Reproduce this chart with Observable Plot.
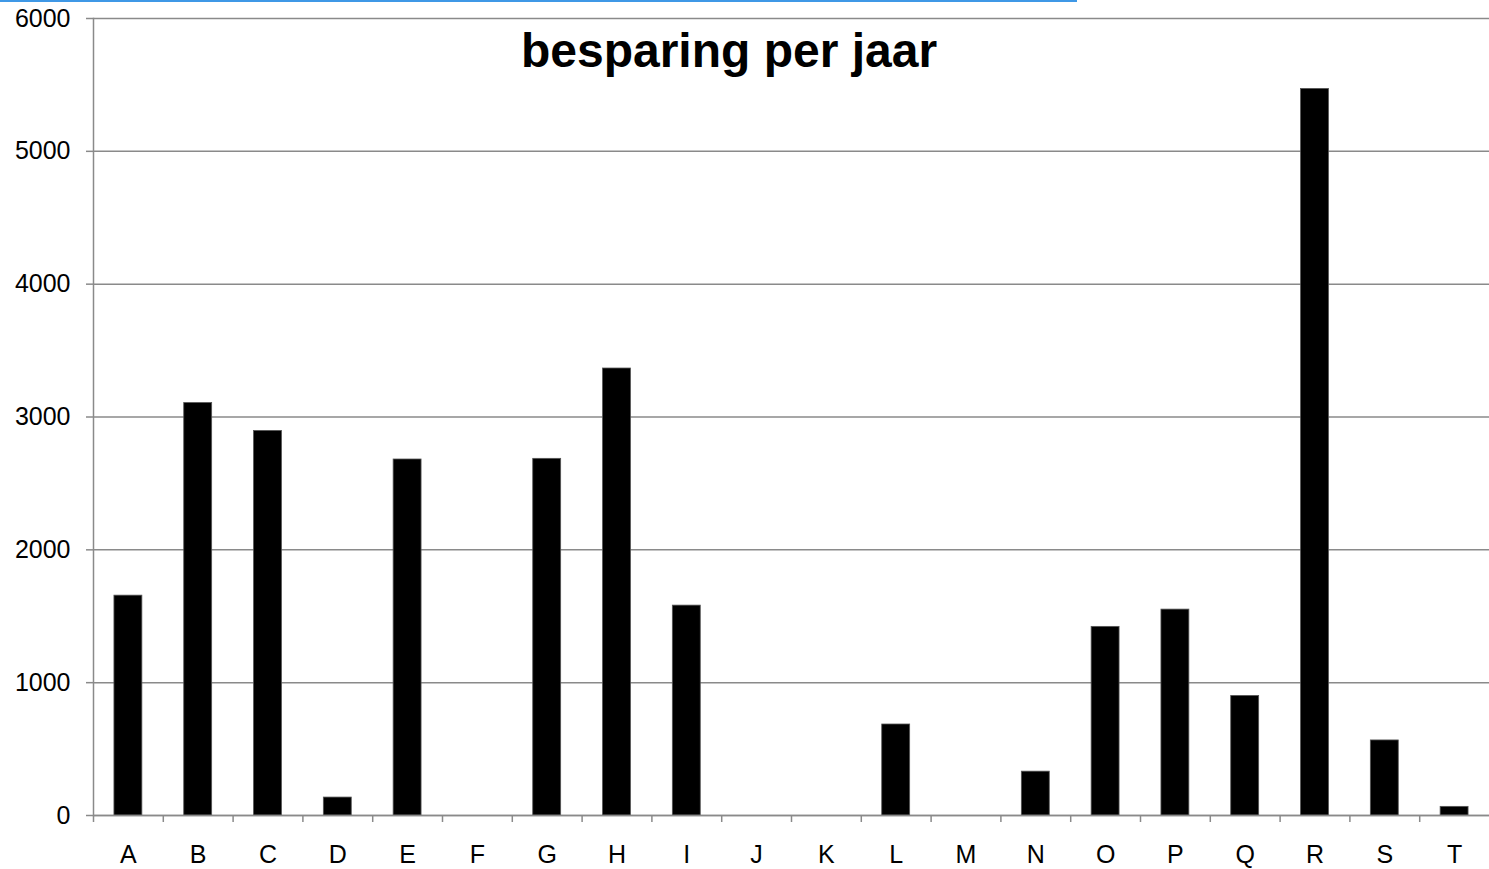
<!DOCTYPE html>
<html>
<head>
<meta charset="utf-8">
<script src="https://cdn.jsdelivr.net/npm/d3@7"></script>
<script src="https://cdn.jsdelivr.net/npm/@observablehq/plot@0.6"></script>
<style>
  html, body { margin: 0; padding: 0; background: #fff; }
  #wrap { position: relative; width: 1489px; height: 869px; overflow: hidden; }
  #topline { position: absolute; left: 0; top: 0; width: 1077px; height: 2px; background: #3f98e6; }
  svg { display: block; }
</style>
</head>
<body>
<div id="wrap"><div id="topline"></div></div>
<script>
const title = "besparing per jaar";
const categories = ["A","B","C","D","E","F","G","H","I","J","K","L","M","N","O","P","Q","R","S","T"];
const values = [1655, 3105, 2895, 135, 2680, 0, 2685, 3365, 1580, 0, 0, 685, 0, 330, 1420, 1550, 900, 5470, 565, 65];
const yTicks = [0, 1000, 2000, 3000, 4000, 5000, 6000];

const data = categories.map((c, i) => ({cat: c, val: values[i]}));

const W = 1489, H = 869, ML = 93, MR = 0, MT = 18, MB = 54;
const step = (W - ML - MR) / categories.length;
const gray = "#8a8a8a";

const chart = Plot.plot({
  width: W,
  height: H,
  marginLeft: ML,
  marginRight: MR,
  marginTop: MT,
  marginBottom: MB,
  style: {fontFamily: "'Liberation Sans', Arial, sans-serif", fontSize: "25px", color: "#000", background: "#fff"},
  x: {domain: categories, paddingInner: 0.6, paddingOuter: 0.3, round: false, label: null},
  y: {domain: [0, 6000], label: null},
  marks: [
    Plot.gridY(yTicks, {stroke: gray, strokeOpacity: 1, strokeWidth: 1.5}),
    Plot.frame({anchor: "left", stroke: gray, strokeWidth: 1.5}),
    Plot.axisY(yTicks, {tickSize: 7, tickPadding: 16, tickFormat: d => String(d), stroke: gray, strokeWidth: 1.5, fontSize: 25, fill: "#000", label: null}),
    Plot.axisX(categories, {tickSize: 7, dx: -step / 2, text: null, stroke: gray, strokeWidth: 1.5, label: null}),
    Plot.axisX(categories, {tickSize: 0, tickPadding: 30, fontSize: 25, fill: "#000", label: null}),
    Plot.barY(data, {x: "cat", y: "val", fill: "#000", stroke: "#555", strokeWidth: 0.8}),
    Plot.ruleY([0], {stroke: gray, strokeWidth: 1.5}),
    Plot.text([title], {frameAnchor: "top-left", dx: 728.5 - ML, dy: 48, lineAnchor: "bottom", textAnchor: "middle", fontSize: 48, fontWeight: "bold", fill: "#000"})
  ]
});
document.getElementById("wrap").appendChild(chart);
</script>
</body>
</html>
